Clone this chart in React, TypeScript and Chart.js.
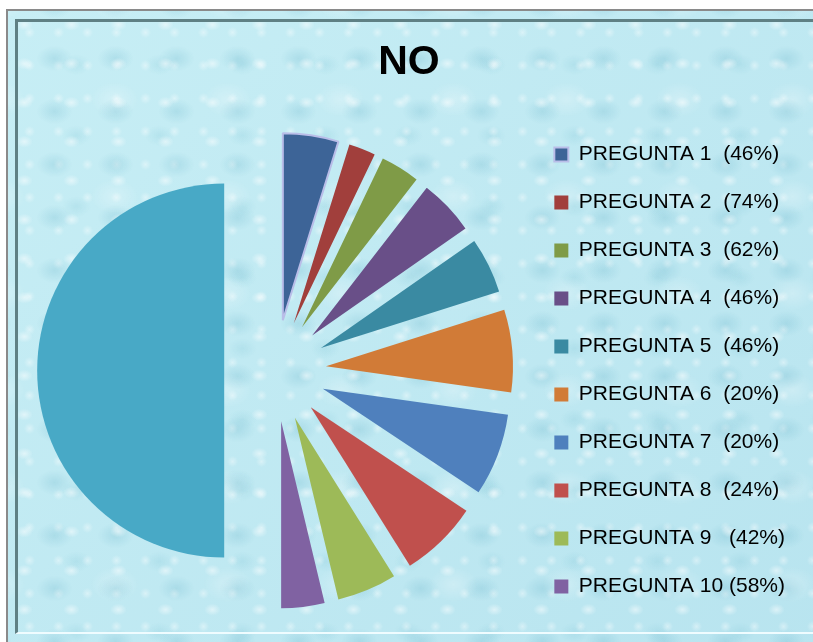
import { useEffect, useRef } from 'react';
import { Chart, registerables } from 'chart.js';

Chart.register(...registerables);

// ---- data ----
const titleText = 'NO';
const legendLabels = [
  'PREGUNTA 1  (46%)',
  'PREGUNTA 2  (74%)',
  'PREGUNTA 3  (62%)',
  'PREGUNTA 4  (46%)',
  'PREGUNTA 5  (46%)',
  'PREGUNTA 6  (20%)',
  'PREGUNTA 7  (20%)',
  'PREGUNTA 8  (24%)',
  'PREGUNTA 9   (42%)',
  'PREGUNTA 10 (58%)',
];
const totalLabel = 'TOTAL';
const noValues = [54, 26, 38, 54, 54, 80, 80, 76, 58, 42];
const totalValue = 562;

// ---- styles ----
const sliceColors = [
  '#3D6497',
  '#A13F3C',
  '#7F9B47',
  '#694F88',
  '#3A8AA2',
  '#D17B37',
  '#4F80BD',
  '#C0504D',
  '#9DBA58',
  '#8062A2',
];
const totalColor = '#48A9C6';
const EXPLODE = 51;
const FONT = "'Liberation Sans', Arial, sans-serif";

const explodePlugin = {
  id: 'explodeSlices',
  beforeDatasetDraw(chart: any, args: any) {
    const ctx = chart.ctx;
    args.meta.data.forEach((arc: any) => {
      const half = (arc.startAngle + arc.endAngle) / 2;
      ctx.save();
      ctx.translate(Math.cos(half) * EXPLODE, Math.sin(half) * EXPLODE);
      arc.draw(ctx);
      ctx.restore();
    });
    return false;
  },
};

export default function App() {
  const ref = useRef<HTMLCanvasElement | null>(null);

  useEffect(() => {
    if (!ref.current) return;
    const labels = [...legendLabels, totalLabel];
    const values = [...noValues, totalValue];
    const colors = [...sliceColors, totalColor];
    const borderWidths = labels.map((_, i) => (i === 0 ? 2 : 0));
    const borderColors = labels.map((_, i) => (i === 0 ? '#B9BDE8' : 'rgba(0,0,0,0)'));

    const chart = new Chart(ref.current, {
      type: 'pie',
      data: {
        labels,
        datasets: [
          {
            data: values,
            backgroundColor: colors,
            borderColor: borderColors,
            borderWidth: borderWidths,
            radius: 187,
          } as any,
        ],
      },
      plugins: [explodePlugin],
      options: {
        responsive: false,
        animation: false,
        layout: { padding: { left: 23, right: 18, top: 0, bottom: 10 } },
        plugins: {
          title: {
            display: true,
            text: titleText,
            color: '#000',
            font: { family: FONT, size: 41, weight: 'bold' },
            padding: { top: 38, bottom: 22 },
          },
          legend: {
            display: true,
            position: 'right',
            fullSize: false,
            labels: {
              color: '#000',
              font: { family: FONT, size: 21 },
              boxWidth: 14,
              boxHeight: 14,
              padding: 27,
              filter: (item: any) => item.index < legendLabels.length,
            },
          },
          tooltip: { enabled: false },
        },
      },
    });
    return () => chart.destroy();
  }, []);

  const texture: React.CSSProperties = {
    backgroundColor: '#bfe9f1',
    backgroundImage: [
      'radial-gradient(ellipse 11px 8px at 35% 35%, rgba(255,255,255,0.5), rgba(255,255,255,0) 75%)',
      'radial-gradient(ellipse 24px 17px at 55% 50%, rgba(80,165,190,0.2), rgba(80,165,190,0) 75%)',
      'radial-gradient(circle 7px at 50% 50%, rgba(255,255,255,0.4), rgba(255,255,255,0) 80%)',
      'radial-gradient(ellipse 18px 13px at 45% 60%, rgba(100,180,200,0.16), rgba(100,180,200,0) 80%)',
      'radial-gradient(ellipse 30px 22px at 50% 50%, rgba(255,255,255,0.25), rgba(255,255,255,0) 80%)',
      'linear-gradient(135deg, #c7eef5, #b8e4ef)',
    ].join(','),
    backgroundSize: '47px 39px, 61px 53px, 29px 33px, 83px 71px, 113px 97px, 100% 100%',
    backgroundPosition: '0 0, 13px 21px, 7px 5px, 31px 11px, 50px 40px, 0 0',
  };

  return (
    <div
      style={{
        position: 'fixed',
        left: 0,
        top: 0,
        width: 813,
        height: 642,
        overflow: 'hidden',
        background: '#ffffff',
      }}
    >
      <div
        style={{
          position: 'absolute',
          left: 6,
          top: 9,
          width: 830,
          height: 640,
          boxSizing: 'border-box',
          borderLeft: '2px solid #8a8a8a',
          borderTop: '2px solid #8a8a8a',
          ...texture,
        }}
      />
      <div
        style={{
          position: 'absolute',
          left: 15,
          top: 19,
          width: 820,
          height: 615,
          boxSizing: 'border-box',
          borderLeft: '3px solid #5f8084',
          borderTop: '3px solid #5f8084',
          borderBottom: '2px solid #effcff',
        }}
      />
      <canvas
        ref={ref}
        width={813}
        height={642}
        style={{ position: 'absolute', left: 0, top: 0, width: 813, height: 642 }}
      />
    </div>
  );
}
